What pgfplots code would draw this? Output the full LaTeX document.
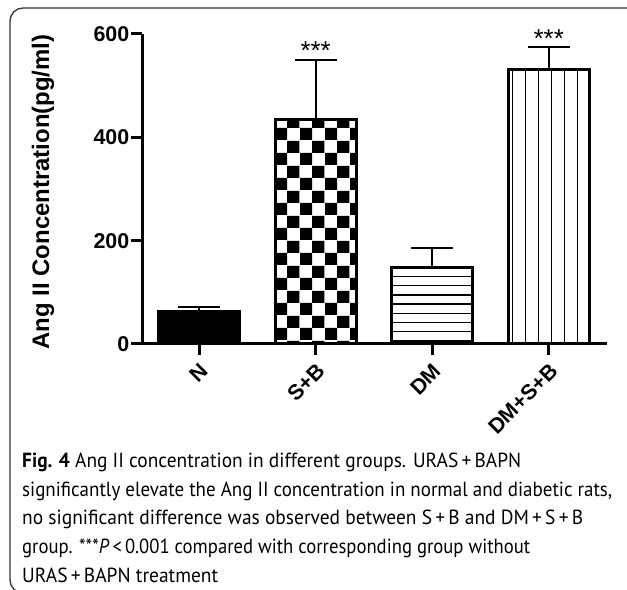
\documentclass[border=0pt]{standalone}
\usepackage{pgfplots}
\pgfplotsset{compat=1.18}
\usepackage{fontspec}
\setmainfont{Liberation Sans}
\newfontfamily\capfont{PT Sans}
\usetikzlibrary{patterns.meta}

\tikzdeclarepattern{name=checker,
  bottom left={(0bp,0bp)}, top right={(25bp,25bp)}, tile size={(25bp,25bp)},
  code={\tikzset{x=1bp,y=1bp}\fill (0,0) rectangle (12.5,12.5); \fill (12.5,12.5) rectangle (25,25);}}
\tikzdeclarepattern{name=hstripes,
  bottom left={(-1bp,0bp)}, top right={(11bp,9.2bp)}, tile size={(10bp,9.2bp)},
  code={\tikzset{x=1bp,y=1bp}\fill (-1,0) rectangle (11,1.4);}}
\tikzdeclarepattern{name=vstripes,
  bottom left={(0bp,-1bp)}, top right={(13bp,11bp)}, tile size={(13bp,10bp)},
  code={\tikzset{x=1bp,y=1bp}\fill (4.5,-1) rectangle (6,11);}}

\newcommand\tickfont{\fontsize{21.5}{22}\selectfont\bfseries}
\newcommand\labfont{\fontsize{24}{25}\selectfont\bfseries}
\newcommand\capline[2]{\resizebox{#1}{\height}{#2}}

\begin{document}
\begin{tikzpicture}
\useasboundingbox (0,0) rectangle (627bp,590bp);
\draw[line width=1.3bp, color=black!80, rounded corners=13bp] (645bp,582bp) -- (10bp,582bp) -- (10bp,-3bp) -- (40bp,-3bp);

\begin{axis}[
  at={(142bp,246bp)}, anchor=south west,
  scale only axis, width=465bp, height=310bp,
  xmin=-0.49, xmax=3.5, ymin=0, ymax=600,
  axis lines*=left,
  axis line style={line width=3bp, black},
  xtick={0,1,2,3}, xticklabels={N,S+B,DM,DM+S+B},
  ytick={0,200,400,600},
  tick style={line width=3bp, black},
  major tick length=11bp, tick align=outside,
  tick label style={font=\tickfont},
  /pgf/number format/assume math mode=true,
  yticklabel style={inner sep=1.5bp},
  xticklabel style={rotate=45, anchor=north east, inner sep=0bp},
  xticklabel shift=7bp,
  ylabel={Ang II Concentration(pg/ml)},
  ylabel style={font=\labfont, at={(axis description cs:-0.213,0.49)}, anchor=center},
  clip=false,
  every axis plot/.append style={ybar, bar width=81bp, bar shift=0pt, draw=black, line width=3bp,
    error bars/y dir=plus, error bars/y explicit,
    error bars/error bar style={line width=2bp, black},
    error bars/error mark options={line width=2bp, mark size=21bp, rotate=90, black}},
]
\addplot[fill=black] coordinates {(0,62) +- (0,10)};
\addplot[pattern=checker, pattern color=black] coordinates {(1,435) +- (0,114)};
\addplot[pattern=hstripes, pattern color=black] coordinates {(2,149) +- (0,37)};
\addplot[pattern=vstripes, pattern color=black] coordinates {(3,532) +- (0,42)};
\node[font=\fontsize{26}{26}\selectfont, anchor=base, inner sep=0] at (axis cs:1,550) {***};
\node[font=\fontsize{26}{26}\selectfont, anchor=base, inner sep=0] at (axis cs:3,574) {***};
\end{axis}

\begin{scope}[every node/.style={anchor=base west, inner sep=0, font=\capfont\fontsize{20.5}{20.5}\selectfont}]
\node at (22bp,122bp) {\capline{499bp}{\textbf{Fig. 4} Ang II concentration in different groups. URAS\,+\,BAPN}};
\node at (22bp,93.5bp) {\capline{590bp}{significantly elevate the Ang II concentration in normal and diabetic rats,}};
\node at (22bp,65bp) {\capline{561bp}{no significant difference was observed between S\,+\,B and DM\,+\,S\,+\,B}};
\node at (22bp,36.5bp) {\capline{508bp}{group. ***\textit{P}\,<\,0.001 compared with corresponding group without}};
\node at (22bp,8bp) {\capline{196bp}{URAS\,+\,BAPN treatment}};
\end{scope}
\end{tikzpicture}
\end{document}
